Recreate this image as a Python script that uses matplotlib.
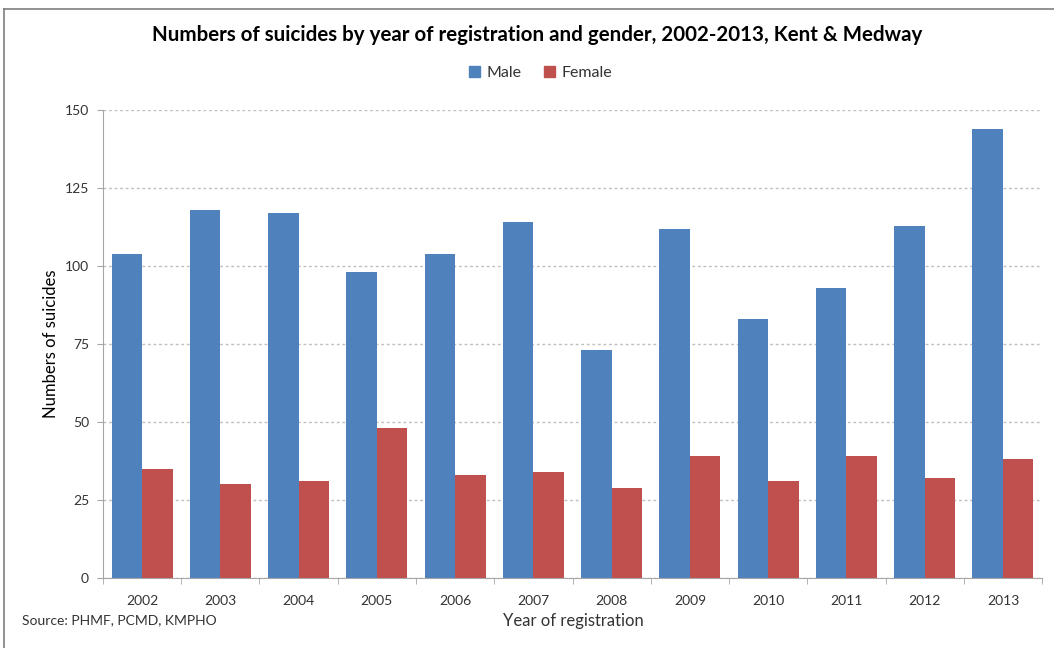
import numpy as np
import matplotlib
matplotlib.use("Agg")
import matplotlib.pyplot as plt
from matplotlib.lines import Line2D
from matplotlib.patches import Patch

plt.rcParams['font.family'] = ['Lato', 'DejaVu Sans']

years = ['2002', '2003', '2004', '2005', '2006', '2007',
         '2008', '2009', '2010', '2011', '2012', '2013']
male = [104, 118, 117, 98, 104, 114, 73, 112, 83, 93, 113, 144]
female = [35, 30, 31, 48, 33, 34, 29, 39, 31, 39, 32, 38]

blue = '#4F81BD'
red = '#C0504D'
grey = '#A6A6A6'
txt = '#333333'

fig = plt.figure(figsize=(10.54, 6.48), dpi=100)
ax = fig.add_axes([0.0977, 0.108, 0.891, 0.722])

x = np.arange(len(years))
w = 0.39
ax.bar(x - w / 2, male, width=w, color=blue, label='Male', zorder=2)
ax.bar(x + w / 2, female, width=w, color=red, label='Female', zorder=2)

ax.set_xlim(-0.5, len(years) - 0.5)
ax.set_ylim(0, 150)
ax.set_yticks([0, 25, 50, 75, 100, 125, 150])
ax.yaxis.grid(True, linestyle=(0, (2, 2)), color='#BFBFBF', linewidth=1)
ax.set_axisbelow(True)

ax.set_xticks(x)
ax.set_xticklabels(years)
ax.set_xticks(np.arange(len(years) + 1) - 0.5, minor=True)
ax.tick_params(axis='x', which='major', length=0, pad=12, labelsize=10, labelcolor=txt)
ax.tick_params(axis='x', which='minor', length=4, color=grey, direction='out')
ax.tick_params(axis='y', length=4, color=grey, pad=6, labelsize=10, labelcolor=txt)

for s in ['top', 'right']:
    ax.spines[s].set_visible(False)
for s in ['left', 'bottom']:
    ax.spines[s].set_color(grey)

ax.set_ylabel('Numbers of suicides', fontsize=12, color='black', labelpad=4)

fig.text(0.51, 0.946, 'Numbers of suicides by year of registration and gender, 2002-2013, Kent & Medway',
         ha='center', va='center', fontsize=14.8, fontweight='bold', color='black')
fig.text(0.544, 0.041, 'Year of registration', ha='center', va='center', fontsize=12, color=txt)
fig.text(0.021, 0.043, 'Source: PHMF, PCMD, KMPHO', ha='left', va='center', fontsize=10, color=txt)

handles = [Patch(color=blue, label='Male'), Patch(color=red, label='Female')]
fig.legend(handles=handles, loc='center', bbox_to_anchor=(0.513, 0.887), ncol=2, frameon=False,
           fontsize=11.5, handlelength=0.7, handleheight=0.7, handletextpad=0.4, columnspacing=1.4,
           labelcolor=txt)

# outer chart border
fig.add_artist(Line2D([0.004, 0.004], [0.0, 0.986], transform=fig.transFigure, color='#7F7F7F', linewidth=1.2))
fig.add_artist(Line2D([0.004, 1.0], [0.986, 0.986], transform=fig.transFigure, color='#7F7F7F', linewidth=1.2))

fig.savefig('out.png', dpi=100)
